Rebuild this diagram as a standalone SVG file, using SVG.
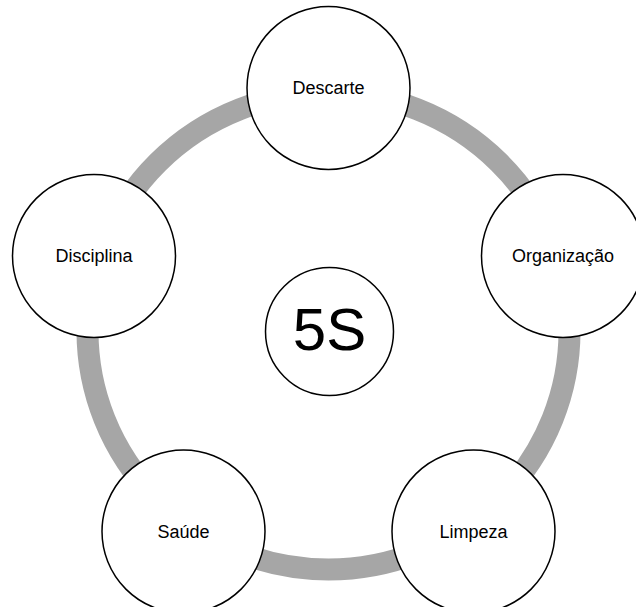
<svg xmlns="http://www.w3.org/2000/svg" width="636" height="607" viewBox="0 0 636 607">
<style>
.node{fill:#ffffff;stroke:#000000;stroke-width:1.5}
.lbl{font-family:"Liberation Sans",Arial,sans-serif;font-size:18px;fill:#000000;text-anchor:middle}
.big{font-family:"Liberation Sans",Arial,sans-serif;font-size:60px;fill:#000000;text-anchor:middle}
</style>
<rect width="636" height="607" fill="#ffffff"/>
<g id="connectors">
<ellipse cx="328.5" cy="331" rx="241" ry="238.5" fill="none" stroke="#a6a6a6" stroke-width="22"/>
</g>
<g id="center-5s">
<circle class="node" cx="329.5" cy="331.5" r="64"/>
<text class="big" x="329.5" y="350">5S</text>
</g>
<g id="descarte">
<circle class="node" cx="328.5" cy="88" r="81.5"/>
<text class="lbl" x="328.5" y="94">Descarte</text>
</g>
<g id="organizacao">
<circle class="node" cx="563" cy="256" r="81.5"/>
<text class="lbl" x="563" y="262">Organização</text>
</g>
<g id="limpeza">
<circle class="node" cx="473.5" cy="531.5" r="81.5"/>
<text class="lbl" x="473.5" y="537.5">Limpeza</text>
</g>
<g id="saude">
<circle class="node" cx="183.5" cy="531.5" r="81.5"/>
<text class="lbl" x="183.5" y="537.5">Saúde</text>
</g>
<g id="disciplina">
<circle class="node" cx="94" cy="256" r="81.5"/>
<text class="lbl" x="94" y="262">Disciplina</text>
</g>
</svg>
